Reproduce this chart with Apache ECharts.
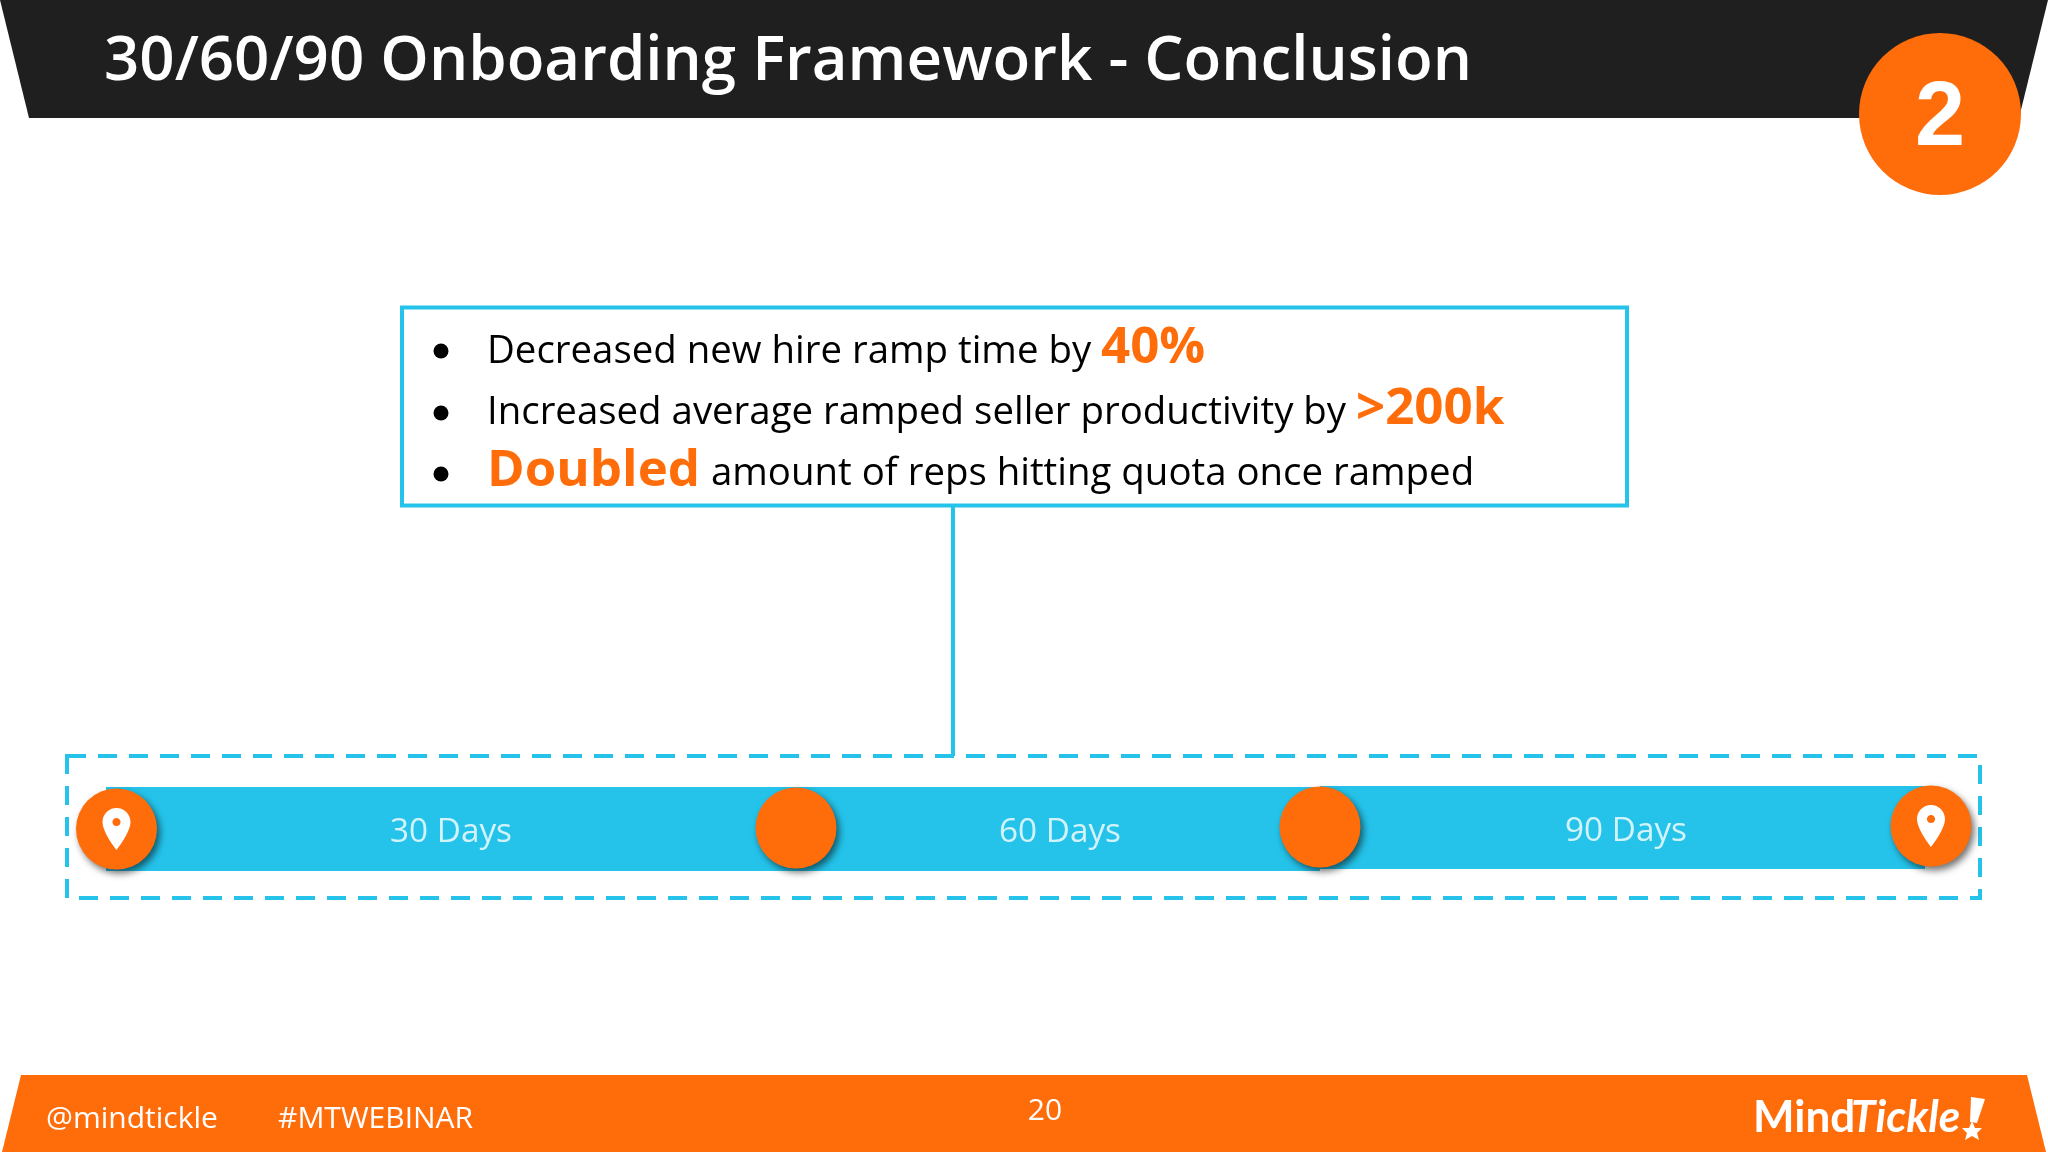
<!DOCTYPE html>
<html><head><meta charset="utf-8">
<style>html,body{margin:0;padding:0;background:#fff}#c{width:2048px;height:1152px}</style>
<script src="https://cdn.jsdelivr.net/npm/echarts@6/dist/echarts.min.js"></script>
</head><body><div id="c"></div>
<script>
const titleText = '30/60/90 Onboarding Framework - Conclusion';
const stepNumber = '2';
const bulletLine1 = ['Decreased new hire ramp time by', '40%'];
const bulletLine2 = ['Increased average ramped seller productivity by', '>200k'];
const bulletLine3 = ['Doubled', 'amount of reps hitting quota once ramped'];
const periodLabels = ['30 Days', '60 Days', '90 Days'];
const labelSlots = [451, 1060, 1626];
const labelRows = [833, 833, 832];
const milestoneSlots = [116.5, 796, 1320, 1931];
const milestoneRows = [829, 828, 827, 826];
const segmentStart = [106, 796, 1320];
const segmentEnd = [796, 1320, 1925];
const segmentTop = [787, 787, 786];
const segmentBottom = [871, 871, 869];
const pinned = [true, false, false, true];
const footerHandle = '@mindtickle';
const footerTag = '#MTWEBINAR';
const pageNumber = '20';
const logoWords = ['Mind', 'Tickle'];

const ORANGE = '#FF6D0A', BLUE = '#25C3EA', DARK = '#1F1F1F';
const OS = '"Open Sans"';
const PIN = 'M12 0C5.4 0 0 5.4 0 12c0 9 12 24 12 24s12-15 12-24C24 5.4 18.6 0 12 0zM12 8.5c2 0 3.5 1.5 3.5 3.5s-1.5 3.5-3.5 3.5-3.5-1.5-3.5-3.5 1.5-3.5 3.5-3.5z';

function txt(x, y, text, size, fill, weight, align, font, style) {
  return { type: 'text', x, y, style: { text, fontSize: size, fill, fontWeight: weight || 400,
    fontFamily: font || OS, fontStyle: style || 'normal', align: align || 'left', verticalAlign: 'middle' } };
}
function poly(points, fill) { return { type: 'polygon', shape: { points }, style: { fill } }; }
function dot(y) { return { type: 'circle', shape: { cx: 441, cy: y, r: 7.5 }, style: { fill: '#000' } }; }

const graphic = [
  poly([[0,0],[2048,0],[2019,118],[29,118]], DARK),
  poly([[21,1075],[2027,1075],[2046,1152],[2,1152]], ORANGE),
  txt(104, 62, titleText, 61.8, '#fff', 600),
  { type: 'circle', shape: { cx: 1940, cy: 114, r: 81 }, style: { fill: ORANGE } },
  txt(1940, 120, stepNumber, 90, '#fff', 700, 'center', '"Liberation Sans"'),

  { type: 'rect', shape: { x: 402, y: 307.5, width: 1225, height: 198 }, style: { fill: '#fff', stroke: BLUE, lineWidth: 4 } },
  { type: 'line', shape: { x1: 953, y1: 506, x2: 953, y2: 756 }, style: { stroke: BLUE, lineWidth: 4 } },
  { type: 'rect', shape: { x: 67, y: 756, width: 1913, height: 142 }, style: { fill: 'none', stroke: BLUE, lineWidth: 4, lineDash: [19, 12] } },

  dot(351), dot(413), dot(474),
  txt(487, 352, bulletLine1[0], 38.4, '#000'),
  txt(1101, 348, bulletLine1[1], 51, ORANGE, 700),
  txt(487, 413, bulletLine2[0], 38.4, '#000'),
  txt(1356, 409, bulletLine2[1], 51, ORANGE, 700),
  txt(487, 471, bulletLine3[0], 51, ORANGE, 700),
  txt(711, 474, bulletLine3[1], 38.4, '#000'),

  txt(46, 1119, footerHandle, 30, '#fff'),
  txt(278, 1119, footerTag, 30, '#fff'),
  txt(1045, 1111, pageNumber, 30, '#fff', 400, 'center'),
  txt(1753, 1118, logoWords[0], 44, '#fff', 700, 'left', 'Lato'),
  txt(1851, 1118, logoWords[1], 44, '#fff', 700, 'left', 'Lato', 'italic'),
  poly([[1971,1097],[1985,1099],[1977,1123],[1970,1122]], '#fff'),
  poly([[1972,1121],[1975,1128],[1982,1128],[1977,1133],[1979,1140],[1972,1136],[1965,1140],[1967,1133],[1962,1128],[1969,1128]], '#fff')
];

const option = {
  animation: false,
  backgroundColor: '#fff',
  graphic,
  grid: { left: 0, right: 0, top: 0, bottom: 0 },
  xAxis: { type: 'value', min: 0, max: 2048, show: false },
  yAxis: { type: 'value', min: 0, max: 1152, inverse: true, show: false },
  series: [
    { type: 'custom', z: 2, silent: true,
      data: segmentStart.map((s, i) => [s, segmentEnd[i], segmentTop[i], segmentBottom[i]]),
      renderItem(params, api) {
        const a = api.coord([api.value(0), api.value(2)]);
        const b = api.coord([api.value(1), api.value(3)]);
        return { type: 'rect', shape: { x: a[0], y: a[1], width: b[0] - a[0], height: b[1] - a[1] }, style: { fill: BLUE } };
      } },
    { type: 'scatter', z: 3, silent: true, symbolSize: 1,
      data: periodLabels.map((t, i) => ({ value: [labelSlots[i], labelRows[i]],
        itemStyle: { color: BLUE },
        label: { show: true, position: 'inside', formatter: t, color: '#fff', fontSize: 33.3, fontFamily: OS } })) },
    { type: 'scatter', z: 4, silent: true, symbol: 'circle', symbolSize: 81,
      data: milestoneSlots.map((x, i) => [x, milestoneRows[i]]),
      itemStyle: { color: ORANGE, opacity: 1, shadowColor: 'rgba(0,0,0,0.55)', shadowBlur: 7, shadowOffsetX: 3, shadowOffsetY: 4 } },
    { type: 'scatter', z: 5, silent: true, symbol: 'path://' + PIN, symbolSize: [28, 42],
      data: milestoneSlots.map((x, i) => [x, milestoneRows[i], i]).filter(d => pinned[d[2]]),
      itemStyle: { color: '#fff', opacity: 1 } }
  ]
};
echarts.init(document.getElementById('c'), null, { renderer: 'canvas' }).setOption(option);
</script></body></html>
